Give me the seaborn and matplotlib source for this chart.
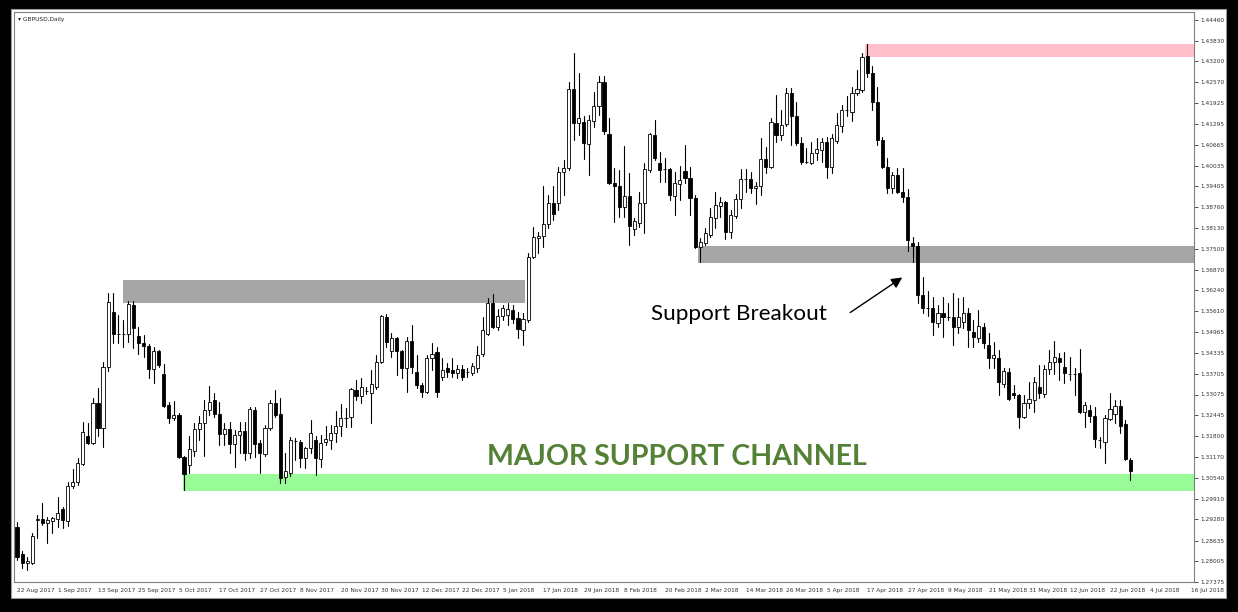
import numpy as np
import pandas as pd
import matplotlib.pyplot as plt
import seaborn as sns
from matplotlib.patches import Rectangle

# GBPUSD daily candles, 22 Aug 2017 .. 28 Jun 2018
opens = [1.2905, 1.2823, 1.2795, 1.2795, 1.2926, 1.2929, 1.2917, 1.2923, 1.2929, 1.2959,
         1.2923, 1.3029, 1.3042, 1.3096, 1.3181, 1.3160, 1.3282, 1.3206, 1.3391, 1.3558,
         1.3491, 1.3490, 1.3491, 1.3580, 1.3485, 1.3464, 1.3455, 1.3385, 1.3440, 1.3370,
         1.3276, 1.3236, 1.3245, 1.3118, 1.3093, 1.3136, 1.3203, 1.3221, 1.3260, 1.3291,
         1.3248, 1.3187, 1.3203, 1.3157, 1.3184, 1.3197, 1.3130, 1.3260, 1.3160, 1.3127,
         1.3206, 1.3282, 1.3248, 1.3057, 1.3069, 1.3166, 1.3163, 1.3115, 1.3145, 1.3169,
         1.3112, 1.3163, 1.3169, 1.3190, 1.3212, 1.3236, 1.3239, 1.3321, 1.3303, 1.3318,
         1.3312, 1.3330, 1.3406, 1.3543, 1.3440, 1.3479, 1.3440, 1.3388, 1.3470, 1.3376,
         1.3336, 1.3315, 1.3419, 1.3437, 1.3361, 1.3388, 1.3382, 1.3373, 1.3385, 1.3376,
         1.3373, 1.3388, 1.3431, 1.3491, 1.3586, 1.3513, 1.3546, 1.3549, 1.3564, 1.3540,
         1.3504, 1.3534, 1.3726, 1.3783, 1.3789, 1.3826, 1.3890, 1.3890, 1.3984, 1.3997,
         1.4236, 1.4133, 1.4137, 1.4069, 1.4139, 1.4185, 1.4257, 1.4100, 1.3950, 1.3941,
         1.3878, 1.3911, 1.3811, 1.3829, 1.3890, 1.3990, 1.4097, 1.4011, 1.3993, 1.3993,
         1.3911, 1.3947, 1.3987, 1.3966, 1.3905, 1.3756, 1.3768, 1.3793, 1.3845, 1.3881,
         1.3893, 1.3802, 1.3851, 1.3902, 1.3962, 1.3963, 1.3936, 1.3941, 1.4023, 1.3999,
         1.4133, 1.4097, 1.4130, 1.4224, 1.4155, 1.4072, 1.4014, 1.4011, 1.4042, 1.4051,
         1.4075, 1.3999, 1.4078, 1.4124, 1.4172, 1.4166, 1.4224, 1.4233, 1.4337, 1.4285,
         1.4197, 1.4081, 1.3999, 1.3936, 1.3975, 1.3923, 1.3908, 1.3768, 1.3759, 1.3610,
         1.3570, 1.3570, 1.3525, 1.3555, 1.3543, 1.3543, 1.3513, 1.3528, 1.3555, 1.3498,
         1.3479, 1.3513, 1.3458, 1.3419, 1.3419, 1.3339, 1.3376, 1.3312, 1.3306, 1.3239,
         1.3282, 1.3291, 1.3330, 1.3309, 1.3385, 1.3406, 1.3419, 1.3391, 1.3370, 1.3370,
         1.3373, 1.3254, 1.3260, 1.3242, 1.3170, 1.3163, 1.3233, 1.3248, 1.3273, 1.3218, 1.3108]

highs = [1.2920, 1.2832, 1.2813, 1.2887, 1.2941, 1.2978, 1.2935, 1.2935, 1.2996, 1.2966,
         1.3042, 1.3081, 1.3115, 1.3224, 1.3221, 1.3297, 1.3327, 1.3406, 1.3616, 1.3616,
         1.3549, 1.3534, 1.3592, 1.3592, 1.3513, 1.3488, 1.3461, 1.3452, 1.3443, 1.3400,
         1.3285, 1.3288, 1.3251, 1.3121, 1.3181, 1.3221, 1.3242, 1.3291, 1.3333, 1.3312,
         1.3285, 1.3221, 1.3224, 1.3200, 1.3224, 1.3224, 1.3269, 1.3269, 1.3169, 1.3215,
         1.3291, 1.3321, 1.3297, 1.3130, 1.3178, 1.3175, 1.3169, 1.3148, 1.3230, 1.3181,
         1.3184, 1.3212, 1.3215, 1.3257, 1.3279, 1.3266, 1.3327, 1.3352, 1.3358, 1.3330,
         1.3382, 1.3428, 1.3549, 1.3552, 1.3494, 1.3482, 1.3443, 1.3482, 1.3519, 1.3428,
         1.3342, 1.3428, 1.3464, 1.3452, 1.3419, 1.3404, 1.3419, 1.3397, 1.3397, 1.3388,
         1.3404, 1.3455, 1.3543, 1.3601, 1.3613, 1.3567, 1.3580, 1.3586, 1.3580, 1.3558,
         1.3555, 1.3738, 1.3817, 1.3802, 1.3941, 1.3914, 1.3941, 1.3999, 1.4020, 1.4257,
         1.4346, 1.4285, 1.4155, 1.4158, 1.4227, 1.4276, 1.4276, 1.4148, 1.3996, 1.3990,
         1.4064, 1.3982, 1.3845, 1.3923, 1.4011, 1.4103, 1.4142, 1.4045, 1.4027, 1.3996,
         1.3984, 1.4002, 1.4066, 1.3999, 1.3914, 1.3783, 1.3814, 1.3875, 1.3923, 1.3908,
         1.3896, 1.3869, 1.3917, 1.3993, 1.3993, 1.3984, 1.3954, 1.4087, 1.4060, 1.4148,
         1.4218, 1.4173, 1.4240, 1.4240, 1.4197, 1.4090, 1.4057, 1.4075, 1.4087, 1.4087,
         1.4090, 1.4100, 1.4163, 1.4188, 1.4215, 1.4243, 1.4294, 1.4346, 1.4373, 1.4306,
         1.4242, 1.4090, 1.4027, 1.3984, 1.3996, 1.3996, 1.3932, 1.3787, 1.3771, 1.3665,
         1.3622, 1.3604, 1.3580, 1.3604, 1.3586, 1.3616, 1.3601, 1.3604, 1.3570, 1.3534,
         1.3564, 1.3525, 1.3494, 1.3467, 1.3443, 1.3388, 1.3388, 1.3336, 1.3309, 1.3306,
         1.3346, 1.3361, 1.3397, 1.3397, 1.3443, 1.3470, 1.3434, 1.3437, 1.3422, 1.3388,
         1.3446, 1.3285, 1.3276, 1.3269, 1.3178, 1.3245, 1.3312, 1.3291, 1.3291, 1.3230, 1.3115]

lows = [1.2804, 1.2780, 1.2774, 1.2792, 1.2871, 1.2911, 1.2856, 1.2887, 1.2905, 1.2902,
        1.2908, 1.3023, 1.3032, 1.3093, 1.3157, 1.3157, 1.3181, 1.3148, 1.3379, 1.3464,
        1.3464, 1.3452, 1.3467, 1.3449, 1.3431, 1.3422, 1.3358, 1.3343, 1.3391, 1.3270,
        1.3221, 1.3230, 1.3115, 1.3017, 1.3069, 1.3121, 1.3169, 1.3121, 1.3245, 1.3239,
        1.3154, 1.3154, 1.3130, 1.3087, 1.3130, 1.3108, 1.3115, 1.3118, 1.3069, 1.3121,
        1.3200, 1.3239, 1.3039, 1.3039, 1.3060, 1.3108, 1.3087, 1.3084, 1.3130, 1.3063,
        1.3087, 1.3154, 1.3142, 1.3163, 1.3181, 1.3209, 1.3209, 1.3291, 1.3282, 1.3309,
        1.3221, 1.3324, 1.3403, 1.3452, 1.3422, 1.3367, 1.3358, 1.3315, 1.3373, 1.3327,
        1.3300, 1.3312, 1.3382, 1.3300, 1.3352, 1.3361, 1.3361, 1.3358, 1.3352, 1.3361,
        1.3367, 1.3376, 1.3425, 1.3488, 1.3510, 1.3504, 1.3534, 1.3519, 1.3525, 1.3479,
        1.3458, 1.3528, 1.3723, 1.3738, 1.3756, 1.3814, 1.3838, 1.3868, 1.3914, 1.3991,
        1.4081, 1.4096, 1.4023, 1.3975, 1.4121, 1.4157, 1.4100, 1.3948, 1.3832, 1.3848,
        1.3848, 1.3762, 1.3793, 1.3817, 1.3799, 1.3984, 1.4021, 1.3954, 1.3954, 1.3899,
        1.3853, 1.3899, 1.3950, 1.3853, 1.3753, 1.3710, 1.3762, 1.3787, 1.3814, 1.3848,
        1.3781, 1.3784, 1.3845, 1.3875, 1.3923, 1.3920, 1.3887, 1.3914, 1.3981, 1.3996,
        1.4075, 1.4081, 1.4124, 1.4066, 1.4066, 1.4008, 1.4011, 1.4008, 1.4020, 1.4014,
        1.3966, 1.3981, 1.4072, 1.4106, 1.4155, 1.4139, 1.4218, 1.4227, 1.4273, 1.4172,
        1.4066, 1.3996, 1.3920, 1.3920, 1.3920, 1.3893, 1.3744, 1.3710, 1.3586, 1.3555,
        1.3546, 1.3488, 1.3513, 1.3482, 1.3534, 1.3458, 1.3494, 1.3510, 1.3452, 1.3452,
        1.3467, 1.3449, 1.3388, 1.3388, 1.3307, 1.3330, 1.3291, 1.3297, 1.3206, 1.3236,
        1.3266, 1.3254, 1.3297, 1.3300, 1.3370, 1.3370, 1.3352, 1.3343, 1.3352, 1.3307,
        1.3251, 1.3209, 1.3224, 1.3148, 1.3145, 1.3099, 1.3230, 1.3221, 1.3190, 1.3108, 1.3048]

closes = [1.2813, 1.2795, 1.2801, 1.2877, 1.2929, 1.2917, 1.2926, 1.2932, 1.2947, 1.2926,
          1.3029, 1.3042, 1.3099, 1.3194, 1.3160, 1.3282, 1.3206, 1.3391, 1.3589, 1.3491,
          1.3490, 1.3492, 1.3583, 1.3510, 1.3464, 1.3455, 1.3385, 1.3440, 1.3397, 1.3273,
          1.3236, 1.3245, 1.3118, 1.3066, 1.3142, 1.3203, 1.3221, 1.3260, 1.3285, 1.3248,
          1.3187, 1.3203, 1.3157, 1.3184, 1.3197, 1.3130, 1.3263, 1.3157, 1.3130, 1.3206,
          1.3282, 1.3245, 1.3054, 1.3075, 1.3169, 1.3167, 1.3115, 1.3145, 1.3190, 1.3115,
          1.3160, 1.3172, 1.3190, 1.3212, 1.3236, 1.3237, 1.3324, 1.3303, 1.3330, 1.3319,
          1.3339, 1.3406, 1.3546, 1.3467, 1.3479, 1.3440, 1.3388, 1.3470, 1.3391, 1.3336,
          1.3315, 1.3419, 1.3431, 1.3315, 1.3382, 1.3376, 1.3373, 1.3385, 1.3361, 1.3377,
          1.3394, 1.3428, 1.3504, 1.3586, 1.3513, 1.3546, 1.3570, 1.3567, 1.3537, 1.3507,
          1.3537, 1.3726, 1.3786, 1.3789, 1.3826, 1.3890, 1.3856, 1.3984, 1.3997, 1.4236,
          1.4133, 1.4148, 1.4072, 1.4142, 1.4185, 1.4257, 1.4109, 1.3950, 1.3941, 1.3878,
          1.3911, 1.3820, 1.3835, 1.3890, 1.3993, 1.4100, 1.4027, 1.3990, 1.3994, 1.3914,
          1.3950, 1.3960, 1.3966, 1.3905, 1.3756, 1.3771, 1.3799, 1.3848, 1.3884, 1.3893,
          1.3802, 1.3854, 1.3902, 1.3963, 1.3963, 1.3936, 1.3941, 1.4023, 1.3999, 1.4136,
          1.4097, 1.4127, 1.4224, 1.4155, 1.4072, 1.4014, 1.4015, 1.4042, 1.4054, 1.4075,
          1.3999, 1.4087, 1.4127, 1.4172, 1.4173, 1.4224, 1.4236, 1.4334, 1.4285, 1.4197,
          1.4081, 1.3999, 1.3936, 1.3975, 1.3923, 1.3908, 1.3777, 1.3759, 1.3610, 1.3570,
          1.3569, 1.3528, 1.3555, 1.3543, 1.3542, 1.3513, 1.3543, 1.3555, 1.3504, 1.3482,
          1.3516, 1.3464, 1.3419, 1.3428, 1.3346, 1.3379, 1.3294, 1.3306, 1.3239, 1.3282,
          1.3294, 1.3346, 1.3312, 1.3385, 1.3406, 1.3422, 1.3406, 1.3373, 1.3369, 1.3371,
          1.3254, 1.3276, 1.3242, 1.3172, 1.3169, 1.3236, 1.3263, 1.3273, 1.3212, 1.3112, 1.3075]

# date labels, one every 8 bars
date_labels = ['22 Aug 2017', '1 Sep 2017', '13 Sep 2017', '25 Sep 2017', '5 Oct 2017',
               '17 Oct 2017', '27 Oct 2017', '8 Nov 2017', '20 Nov 2017', '30 Nov 2017',
               '12 Dec 2017', '22 Dec 2017', '5 Jan 2018', '17 Jan 2018', '29 Jan 2018',
               '8 Feb 2018', '20 Feb 2018', '2 Mar 2018', '14 Mar 2018', '26 Mar 2018',
               '5 Apr 2018', '17 Apr 2018', '27 Apr 2018', '9 May 2018', '21 May 2018',
               '31 May 2018', '12 Jun 2018', '22 Jun 2018', '4 Jul 2018', '16 Jul 2018']
bars_per_label = 8

price_ticks = [1.44460, 1.43830, 1.43200, 1.42570, 1.41925, 1.41295, 1.40665, 1.40035,
               1.39405, 1.38760, 1.38130, 1.37500, 1.36870, 1.36240, 1.35610, 1.34965,
               1.34335, 1.33705, 1.33075, 1.32445, 1.31800, 1.31170, 1.30540, 1.29910,
               1.29280, 1.28635, 1.28005, 1.27375]

# support / resistance zones: start bar, end bar (None = right edge), low, high
zone_start = [20.9, 134.5, 32.8, 167.6]
zone_end = [100.4, None, None, None]
zone_low = [1.3586, 1.3707, 1.3014, 1.4334]
zone_high = [1.3656, 1.3759, 1.3066, 1.4373]
zone_colors = ['#a6a6a6', '#a6a6a6', '#98fb98', '#ffc0cb']

sns.set_style('white')
plt.rcParams['font.family'] = ['DejaVu Sans']

o = np.array(opens)
h = np.array(highs)
l = np.array(lows)
c = np.array(closes)
idx = np.arange(len(o))

fig = plt.figure(figsize=(12.38, 6.12), dpi=100)
fig.patch.set_facecolor('black')
fig.patches.append(Rectangle((11 / 1238, 1 - 598 / 612), 1215 / 1238, 589 / 612,
                             transform=fig.transFigure, facecolor='white',
                             edgecolor='#9a9a9a', linewidth=0.8, zorder=-10))
ax = fig.add_axes([14 / 1238, 30 / 612, 1180 / 1238, 570 / 612])
ax.set_zorder(1)
ax.set_facecolor('white')

xmin, xmax = -0.6, 232.6

# zones
for s, e, lo, hi, col in zip(zone_start, zone_end, zone_low, zone_high, zone_colors):
    e = xmax if e is None else e
    ax.add_patch(Rectangle((s, lo), e - s, hi - lo, facecolor=col, edgecolor='none', zorder=1))

# wicks with seaborn (one short vertical line per bar)
wicks = pd.DataFrame({'bar': np.repeat(idx, 2),
                      'price': np.column_stack([l, h]).ravel()})
sns.lineplot(data=wicks, x='bar', y='price', units='bar', estimator=None, sort=False,
             color='black', linewidth=0.8, legend=False, ax=ax, zorder=2)

# bodies
body_bottom = np.minimum(o, c)
body_height = np.maximum(np.abs(c - o), 0.00006)
body_color = np.where(c >= o, 'white', 'black')
ax.bar(idx, body_height, bottom=body_bottom, width=0.62, color=body_color,
       edgecolor='black', linewidth=0.6, zorder=3)

# axes / ticks like the trading terminal
ax.set_xlim(xmin, xmax)
ax.set_ylim(1.27375, 1.44703)
ax.set_xlabel('')
ax.set_ylabel('')
ax.set_xticks(np.arange(len(date_labels)) * bars_per_label, date_labels, ha='left')
ax.yaxis.tick_right()
ax.set_yticks(price_ticks, [f'{p:.5f}' for p in price_ticks])
ax.tick_params(axis='x', length=3, width=0.6, pad=1.5, labelsize=4.2, colors='#333333')
ax.tick_params(axis='y', length=3, width=0.6, pad=1.5, labelsize=4.2, colors='#333333')
for sp in ax.spines.values():
    sp.set_color('#808080')
    sp.set_linewidth(0.8)

ax.text(4 / 1180, 1 - 8 / 570, '\u25be GBPUSD,Daily', transform=ax.transAxes,
        fontsize=4.2, color='#222222', va='center', ha='left')

# annotations
ax.text(130.5, 1.3118, 'MAJOR SUPPORT CHANNEL', color='#538135', fontsize=20.5,
        fontweight='bold', family='Lato', ha='center', va='center', zorder=5)
ax.text(142.6, 1.3553, 'Support Breakout', color='black', fontsize=16.2,
        family='Lato', ha='center', va='center', zorder=5)
ax.annotate('', xy=(175.4, 1.3668), xytext=(164.2, 1.3552),
            arrowprops=dict(arrowstyle='-|>', color='black', lw=1.0, mutation_scale=16),
            zorder=5)

fig.savefig('out.png', dpi=100)
